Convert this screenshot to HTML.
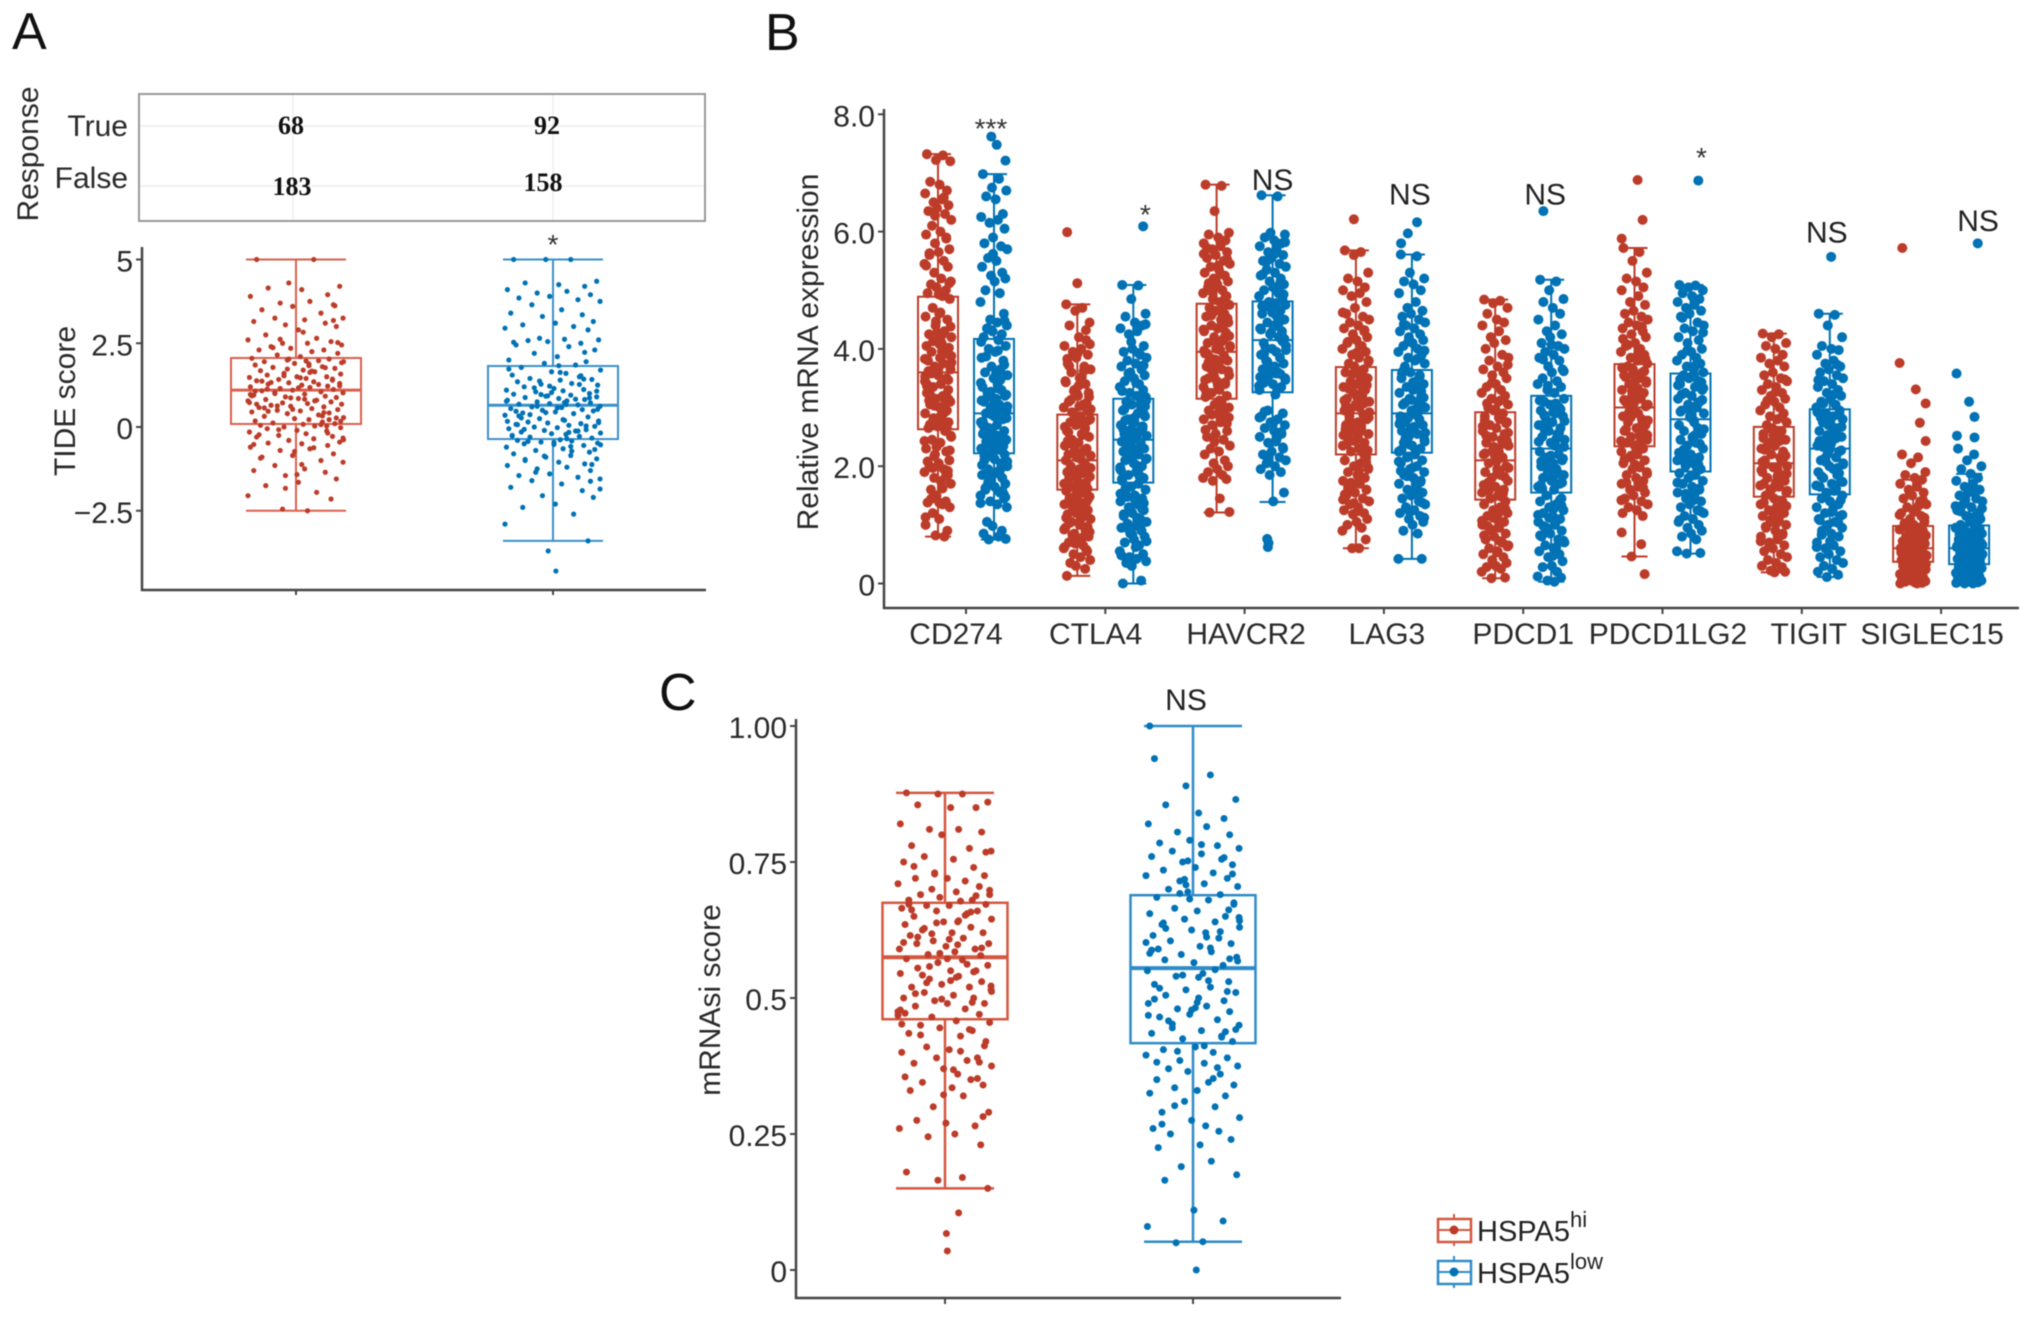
<!DOCTYPE html>
<html lang="en">
<head>
<meta charset="utf-8">
<title>HSPA5 immune panels</title>
<style>
html,body{margin:0;padding:0;background:#fff;width:2032px;height:1317px;overflow:hidden}
svg{display:block;filter:blur(.5px)}
text{font-family:"Liberation Sans",Arial,sans-serif;fill:#222}
.big{font-size:52px;fill:#111}
.lab{font-size:30px;fill:#2a2a2a}
.tick{font-size:30px;fill:#2a2a2a}
.num{font-family:"Liberation Serif",serif;font-size:26px;font-weight:bold;fill:#111;text-anchor:middle}
.ann{font-size:30px;text-anchor:middle;fill:#222}
.star{font-size:28px;text-anchor:middle;fill:#333}
</style>
</head>
<body>
<svg id="figure" xmlns="http://www.w3.org/2000/svg" width="2032" height="1317" viewBox="0 0 2032 1317">
  <rect width="2032" height="1317" fill="#fff"/>

  <text class="big" x="12" y="49">A</text>
  <text class="big" x="765" y="50">B</text>
  <text class="big" x="659" y="710">C</text>

  <g>
    <line x1="139" x2="705" y1="126" y2="126" stroke="#eee" stroke-width="1.5"/>
    <line x1="139" x2="705" y1="186" y2="186" stroke="#eee" stroke-width="1.5"/>
    <line x1="293" x2="293" y1="94" y2="221" stroke="#eee" stroke-width="1.5"/>
    <line x1="553" x2="553" y1="94" y2="221" stroke="#eee" stroke-width="1.5"/>
    <rect x="139" y="94" width="566" height="127" fill="none" stroke="#999" stroke-width="2"/>
    <text class="lab" transform="translate(38,154) rotate(-90)" text-anchor="middle">Response</text>
    <text class="lab" x="128" y="136" text-anchor="end">True</text>
    <text class="lab" x="128" y="188" text-anchor="end">False</text>
    <text class="num" x="291" y="134">68</text>
    <text class="num" x="547" y="134">92</text>
    <text class="num" x="292" y="195">183</text>
    <text class="num" x="543" y="191">158</text>
  </g>

  <g id="panelA">
    <text class="lab" transform="translate(75,401) rotate(-90)" text-anchor="middle">TIDE score</text>
    <text class="star" x="553" y="254">*</text>
  </g>

  <g id="panelB">
    <text class="lab" transform="translate(818,352) rotate(-90)" text-anchor="middle">Relative mRNA expression</text>
  </g>

  <g id="panelC">
    <text class="lab" transform="translate(720,1000) rotate(-90)" text-anchor="middle">mRNAsi score</text>
    <text class="ann" x="1186" y="710">NS</text>
  </g>

  <g>
    <g>
      <line x1="1454" x2="1454" y1="1214" y2="1246" stroke="#D4573F" stroke-width="2"/>
      <rect x="1438" y="1219" width="33" height="23" fill="#fff" stroke="#D4573F" stroke-width="2.5"/>
      <line x1="1438" x2="1471" y1="1230" y2="1230" stroke="#D4573F" stroke-width="2"/>
      <circle cx="1454" cy="1230" r="4.5" fill="#BC3C29"/>
      <text x="1477" y="1241" font-size="29" fill="#222">HSPA5<tspan font-size="22" dy="-14">hi</tspan></text>
    </g>
    <g>
      <line x1="1454" x2="1454" y1="1256" y2="1288" stroke="#2E8BC9" stroke-width="2"/>
      <rect x="1438" y="1261" width="33" height="23" fill="#fff" stroke="#2E8BC9" stroke-width="2.5"/>
      <line x1="1438" x2="1471" y1="1272" y2="1272" stroke="#2E8BC9" stroke-width="2"/>
      <circle cx="1454" cy="1272" r="4.5" fill="#0072B5"/>
      <text x="1477" y="1283" font-size="29" fill="#222">HSPA5<tspan font-size="22" dy="-14">low</tspan></text>
    </g>
  </g>
</svg>

<script>
/* ---------- Panel A data ---------- */
const tickLabelsA = ["5","2.5","0","\u22122.5"];
const tickValuesA = [5,2.5,0,-2.5];
const statsHiA = [-2.5,0.09,1.1,2.06,5];
const statsLoA = [-3.4,-0.36,0.65,1.82,5];
const pointsHiA = [5,5,4.3,4.2,4.15,4.1,3.95,3.9,3.75,3.7,3.65,3.6,3.5,3.4,3.25,3.25,3.2,3.15,3.1,3.05,3,2.9,2.75,2.65,2.6,2.55,2.5,2.5,2.45,2.4,2.35,2.3,2.3,2.25,2.2,2.15,2.1,
2.05,2.03,2,1.98,1.95,1.95,1.9,1.88,1.85,1.8,1.78,1.75,1.7,1.68,1.65,1.6,1.58,1.55,1.5,1.5,1.48,1.45,1.42,1.4,1.38,1.35,1.32,1.3,1.28,1.25,1.22,1.2,1.18,1.15,1.12,1.1,
1.08,1.05,1.02,1,.98,.95,.92,.9,.88,.85,.82,.8,.78,.75,.72,.7,.68,.65,.62,.6,.58,.55,.52,.5,.48,.45,.42,.4,.36,.32,.28,.25,.22,.18,.15,.12,.1,
.08,.05,.03,0,-.02,-.05,-.1,-.12,-.15,-.2,-.25,-.28,-.3,-.35,-.4,-.45,-.48,-.5,-.55,-.6,-.65,-.7,-.8,-.85,-.9,-1,-1.05,-1.15,-1.25,-1.3,-1.35,-1.45,-1.55,-1.65,-1.75,-1.95,-2.05,-2.15,-2.45,-2.5,
1.92,1.33,.87,.43,-.23,1.67,2.52,.63,1.47,.93,.22,1.73,1.27,.57,-.38,-.73,1.83,1.07,.33,2.37,3.62,2.83,-.93,.78,1.53,.17,1.13,-1.42,.03,.73,1.97,-.08,1.43,.68,-.62,2.03,1.23,.47,-1.12,-.18,.97,1.63,2.62,3.18,.53,1.37,.07,-.33,1.03,.83,-.52,1.77,-1.83,.27,1.17];
const pointsLoA = [5,5,5,4.35,4.3,4.25,4.2,4.1,4.05,4,3.95,3.9,3.85,3.8,3.75,3.65,3.5,3.4,3.35,3.3,3.15,3.1,3.05,3,2.95,2.9,2.65,2.62,2.6,2.58,2.55,2.5,2.45,2.4,2.3,2.2,2.1,2,1.95,1.9,1.85,
1.78,1.7,1.65,1.6,1.55,1.5,1.45,1.42,1.4,1.35,1.3,1.28,1.25,1.2,1.15,1.12,1.1,1.08,1.05,1,.98,.95,.92,.9,.88,.85,.82,.8,.78,.75,.72,.7,.68,.66,
.62,.6,.58,.55,.52,.5,.48,.45,.42,.4,.35,.3,.25,.2,.18,.15,.12,.1,.08,.05,.02,0,-.02,-.05,-.08,-.1,-.12,-.15,-.18,-.2,-.22,-.25,-.28,-.3,-.33,
-.38,-.4,-.42,-.45,-.48,-.5,-.52,-.55,-.6,-.65,-.7,-.75,-.8,-.85,-.9,-.95,-1,-1.05,-1.1,-1.15,-1.2,-1.25,-1.3,-1.4,-1.45,-1.5,-1.55,-1.6,-1.7,-1.8,-1.9,-2.05,-2.1,-2.3,-2.4,-2.6,-2.9,-3.4,
1.37,.73,.13,-.43,.93,1.53,.47,-.16,-.67,1.17,.57,1.73,.03,-.87,.83,.27,-.53,1.03,.67,-.27,1.27,.37,-1.12,1.63,.07,-.72,.97,.53,-.07,-.46,1.43,.77,.22,-1.35,.87,2.53,-.58,.43,1.07,-.97,1.83,2.23,.17,-.35,.62,-1.62,1.22,.33,-.12,-1.85];
const outlierValuesLoA = [-3.7,-4.3];
const outlierJitterLoA = [-.1,.06];

/* ---------- Panel B data ---------- */
const categoriesB = ["CD274","CTLA4","HAVCR2","LAG3","PDCD1","PDCD1LG2","TIGIT","SIGLEC15"];
const tickLabelsB = ["8.0","6.0","4.0","2.0","0"];
const tickValuesB = [8,6,4,2,0];
const annotationsB = ["***","*","NS","NS","NS","*","NS","NS"];
const annotationLevelB = [7.87,6.4,6.71,6.46,6.46,7.37,5.81,6.01];
const whiskerLowHiB = [.8,.13,1.21,.6,.09,.46,.19,0];
const q1HiB = [2.63,1.6,3.15,2.2,1.43,2.34,1.48,.37];
const medianHiB = [3.6,2.1,3.95,2.9,2.1,3,2.05,.6];
const q3HiB = [4.89,2.88,4.77,3.69,2.92,3.74,2.67,.98];
const whiskerHighHiB = [7.32,4.76,6.8,5.68,4.84,5.72,4.26,1.77];
const whiskerLowLoB = [.75,0,1.39,.42,.03,.51,.11,0];
const q1LoB = [2.22,1.72,3.26,2.23,1.55,1.91,1.52,.33];
const medianLoB = [2.9,2.45,4.15,2.9,2.3,2.8,2.3,.6];
const q3LoB = [4.17,3.15,4.81,3.64,3.2,3.58,2.97,.99];
const whiskerHighLoB = [6.98,5.09,6.62,5.61,5.18,5.09,4.6,1.87];

const cd274Hi=[7.32,7.3,7.22,7.2,6.85,6.8,6.7,6.65,6.55,6.5,6.45,6.4,6.35,6.3,6.2,6.1,6,5.95,5.9,5.8,5.7,5.65,5.6,5.5,5.45,5.4,5.3,5.2,5.15,5.1,5.05,5,4.95,4.9,4.85,4.7,4.6,4.55,4.5,4.4,4.3,4.25,4.2,4.15,4.1,4.05,4,3.95,3.9,3.85,3.8,3.75,3.7,3.65,3.6,3.55,3.5,3.45,3.4,3.35,3.3,3.25,3.2,3.15,3.1,3.05,3,2.95,2.9,2.85,2.8,2.75,2.7,2.65,2.6,2.5,2.45,2.4,2.3,2.25,2.2,2.1,2.05,2,1.95,1.9,1.85,1.8,1.75,1.7,1.6,1.5,1.4,1.38,1.35,1.3,1.2,1.1,1,.9,.82,.8,
3.12,3.77,2.68,4.23,3.41,2.93,3.58,4.02,2.77,3.29,3.91,3.03,4.38,2.71,3.66,3.18,3.83,2.86,4.13,3.47,3.37,2.98,4.47,3.72,3.22,4.08,2.66,3.53,3.96,2.82,3.14,4.28,3.62,3.08,3.88,2.73,4.62,5.42,5.88,6.27,5.12,4.93,5.63,6.58,2.43,1.92,2.17,1.73,2.52,1.44,2.33,1.83,2.08,1.62,2.27,1.97,1.38,1.13];
const cd274Lo=[6.98,6.9,6.75,6.7,6.6,6.55,6.3,6.25,6.2,6.15,6.05,5.9,5.8,5.75,5.7,5.55,5.5,5.4,5.3,5.25,5.2,5.15,5,4.95,4.8,4.6,4.5,4.45,4.4,4.35,4.3,4.25,4.2,4.15,4.05,4,3.95,3.85,3.8,3.7,3.65,3.6,3.55,3.5,3.4,3.35,3.3,3.25,3.2,3.15,3.1,3.05,3,2.95,2.9,2.85,2.8,2.75,2.7,2.65,2.6,2.55,2.52,2.5,2.45,2.42,2.4,2.35,2.3,2.28,2.25,2.2,2.15,2.1,2.05,2,1.95,1.9,1.85,1.8,1.75,1.7,1.65,1.6,1.55,1.5,1.45,1.4,1.35,1.3,1.05,.98,.9,.85,.8,.76,.75,
2.53,3.12,2.34,2.88,3.47,2.62,3.02,2.27,3.33,2.71,2.44,3.18,2.96,3.58,2.58,2.38,3.27,2.82,2.67,3.08,2.48,3.42,2.92,2.31,3.73,2.76,3.62,2.57,3.22,3.87,2.86,2.41,4.12,3.97,4.33,4.48,5.62,2.18,1.97,2.08,1.72,1.88,2.02,1.58,1.78,1.47,2.12,1.63,1.92,1.37,1.52,1.83];
const ctla4Hi=[4.76,4.7,4.65,4.45,4.4,4.2,4.15,4.05,4,3.95,3.9,3.85,3.75,3.7,3.65,3.6,3.5,3.45,3.4,3.3,3.25,3.2,3.1,3.05,3,2.95,2.9,2.85,2.8,2.75,2.7,2.65,2.6,2.55,2.5,2.45,2.4,2.35,2.3,2.28,2.25,2.2,2.18,2.15,2.12,2.1,2.05,2,1.98,1.95,1.9,1.88,1.85,1.82,1.8,1.75,1.72,1.7,1.68,1.65,1.62,1.58,1.55,1.5,1.48,1.45,1.4,1.38,1.35,1.3,1.28,1.25,1.2,1.18,1.15,1.1,1.05,1,.95,.9,.85,.8,.75,.7,.65,.6,.55,.5,.45,.4,.35,.3,.25,.13,
3.52,3.18,2.92,3.37,2.67,3.08,2.83,3.62,2.58,2.97,3.24,2.72,3.43,2.62,3.13,2.78,3.02,3.83,2.53,3.28,4.08,3.71,3.92,4.32,.92,1.07,.83,.97,1.12,.78,.68,.88,1.03,.72,.58,.62,1.22,1.33,1.43,2.17,2.43,2.27,1.97,2.38];
const ctla4Lo=[5.09,5.08,4.85,4.6,4.55,4.45,4.4,4.35,4.3,4.25,4.05,4,3.95,3.9,3.85,3.8,3.75,3.7,3.65,3.6,3.55,3.5,3.45,3.4,3.35,3.3,3.25,3.2,3.12,3.1,3.05,3,2.95,2.9,2.85,2.8,2.75,2.7,2.65,2.62,2.6,2.55,2.52,2.5,2.48,2.42,2.4,2.35,2.3,2.28,2.25,2.2,2.15,2.12,2.1,2.05,2,1.95,1.9,1.85,1.8,1.75,1.7,1.65,1.6,1.55,1.5,1.45,1.4,1.35,1.3,1.25,1.2,1.15,1.1,1.05,1.02,.98,.95,.9,.85,.8,.75,.7,.65,.55,.5,.45,.42,.38,.35,.3,.05,0,
2.58,3.02,2.22,2.83,1.93,2.68,2.38,1.82,2.97,2.13,2.73,2.47,1.78,3.07,2.32,2.88,2.03,2.63,1.87,2.43,3.18,2.78,2.18,2.93,1.98,3.42,3.58,3.72,3.28,3.93,4.12,4.42,1.62,1.43,1.27,1.53,1.12,.92,1.37,.83,1.18,.97,.72,1.48,.62,.48];
const havcr2Hi=[6.8,6.78,6.35,5.98,5.95,5.9,5.85,5.8,5.75,5.7,5.65,5.6,5.55,5.5,5.45,5.4,5.35,5.3,5.25,5.2,5.15,5.1,5.05,5,4.95,4.9,4.85,4.8,4.75,4.7,4.65,4.6,4.55,4.5,4.45,4.4,4.35,4.3,4.25,4.2,4.15,4.1,4.05,4,3.98,3.92,3.88,3.85,3.8,3.75,3.7,3.65,3.6,3.55,3.5,3.45,3.4,3.35,3.3,3.25,3.2,3.18,3.1,3.05,3,2.95,2.9,2.85,2.8,2.75,2.7,2.6,2.55,2.5,2.45,2.35,2.3,2.25,2.2,2.1,2.05,2,1.95,1.9,1.85,1.8,1.78,1.75,1.45,1.22,1.21,
3.82,4.43,3.27,4.12,3.62,4.57,3.38,3.97,4.28,3.53,4.72,3.22,4.03,3.72,4.38,3.47,4.18,3.67,4.52,3.33,3.93,4.62,3.58,4.22,3.77,4.08,3.43,4.33,3.12,2.88,2.73,2.62,2.97,2.42,2.83,5.12,5.42,4.88,5.62,5.28,4.97,5.53,5.18,5.72];
const havcr2Lo=[6.62,6.6,5.98,5.95,5.9,5.85,5.8,5.75,5.7,5.65,5.6,5.55,5.5,5.45,5.4,5.35,5.3,5.25,5.2,5.15,5.1,5.05,5,4.95,4.9,4.85,4.8,4.78,4.75,4.72,4.7,4.65,4.6,4.55,4.5,4.45,4.4,4.35,4.3,4.25,4.2,4.1,4.05,4,3.95,3.9,3.85,3.8,3.75,3.7,3.65,3.6,3.55,3.5,3.45,3.4,3.35,3.3,3.22,2.95,2.9,2.85,2.8,2.75,2.7,2.65,2.6,2.55,2.5,2.45,2.4,2.3,2.25,2.2,2.15,2.1,2.05,2,1.95,1.9,1.85,1.55,1.4,
3.92,4.42,3.37,4.13,3.68,4.58,3.47,4.02,4.28,3.57,4.73,3.32,4.17,3.78,4.38,3.52,4.23,3.63,4.53,3.42,3.98,4.62,3.58,4.33,5.12,5.48,4.93,5.62,5.27,5.02,5.53,5.82,2.93,2.72,2.58,2.83,2.42,2.12,2.32];
const lag3Hi=[5.68,5.65,5.6,5.3,5.2,5.15,5.05,5,4.95,4.9,4.8,4.7,4.6,4.55,4.5,4.45,4.4,4.35,4.3,4.25,4.2,4.15,4.1,4.05,4,3.95,3.9,3.85,3.8,3.75,3.7,3.65,3.6,3.55,3.5,3.45,3.4,3.35,3.3,3.25,3.2,3.15,3.1,3.05,3,2.95,2.88,2.85,2.8,2.75,2.7,2.65,2.6,2.55,2.5,2.45,2.4,2.35,2.3,2.25,2.15,2.1,2.05,2,1.95,1.9,1.85,1.8,1.75,1.7,1.65,1.6,1.55,1.5,1.45,1.4,1.35,1.3,1.25,1.2,1.18,1.1,1.05,1,.95,.9,.75,.6,.6,
2.83,3.32,2.43,3.07,2.63,3.52,2.27,2.97,3.18,2.53,3.42,2.73,3.27,2.38,2.92,3.62,2.58,3.12,2.22,2.78,3.38,2.48,3.03,2.68,3.57,3.78,4.12,3.93,4.32,4.62,1.92,1.72,2.07,1.52,1.82,1.37,1.97,1.63,1.23,2.12,1.43];
const lag3Lo=[5.61,5.58,5.3,5.2,5.15,5.1,5,4.95,4.8,4.7,4.65,4.6,4.55,4.5,4.45,4.4,4.35,4.3,4.25,4.2,4.15,4.1,4.05,4,3.95,3.9,3.85,3.8,3.75,3.7,3.6,3.55,3.5,3.45,3.4,3.35,3.3,3.25,3.2,3.15,3.1,3.05,3,2.95,2.88,2.85,2.8,2.75,2.7,2.65,2.6,2.55,2.5,2.45,2.4,2.35,2.3,2.25,2.2,2.15,2.1,2.05,2,1.95,1.9,1.85,1.8,1.75,1.7,1.65,1.6,1.55,1.5,1.45,1.4,1.35,1.3,1.25,1.2,1.15,1.1,1.05,1,.9,.85,.42,.42,
2.82,3.33,2.42,3.08,2.62,3.53,2.28,2.98,3.17,2.52,3.43,2.72,3.28,2.37,2.93,3.62,2.57,3.13,2.23,2.77,3.37,2.47,3.02,2.67,3.58,3.83,4.13,3.97,4.42,1.97,1.73,2.08,1.53,1.83,1.38,1.92,1.62,1.22,1.12];
const pdcd1Hi=[4.84,4.82,4.78,4.7,4.6,4.5,4.45,4.4,4.3,4.2,4.15,4.1,4,3.9,3.85,3.8,3.7,3.65,3.6,3.55,3.5,3.4,3.35,3.3,3.25,3.2,3.15,3.1,3.05,3,2.95,2.9,2.85,2.8,2.75,2.7,2.65,2.6,2.55,2.5,2.45,2.4,2.35,2.3,2.25,2.2,2.15,2.05,2,1.95,1.9,1.85,1.8,1.75,1.7,1.65,1.6,1.55,1.5,1.45,1.4,1.35,1.3,1.25,1.2,1.15,1.1,1.05,1,.95,.9,.85,.8,.75,.7,.65,.6,.55,.5,.45,.4,.35,.3,.28,.25,.2,.1,.09,
2.13,2.57,1.72,2.33,1.53,2.78,1.92,2.43,1.63,2.08,2.68,1.82,2.27,1.48,2.52,1.97,2.18,2.83,1.68,2.38,1.58,2.73,1.87,2.22,3.12,3.42,3.73,3.07,2.97,1.32,1.07,1.18,.93,1.27,.82,.72,1.12,.63,.98,.53];
const pdcd1Lo=[5.18,5.15,5,4.85,4.8,4.7,4.6,4.5,4.4,4.3,4.25,4.2,4.1,4.05,4,3.95,3.9,3.85,3.8,3.7,3.65,3.6,3.5,3.45,3.4,3.35,3.3,3.25,3.15,3.1,3.05,3,2.95,2.9,2.85,2.8,2.75,2.7,2.65,2.6,2.55,2.5,2.45,2.4,2.35,2.25,2.2,2.15,2.1,2.05,2,1.95,1.9,1.85,1.8,1.75,1.7,1.65,1.6,1.5,1.45,1.4,1.35,1.3,1.25,1.2,1.15,1.1,1.05,1,.95,.9,.85,.8,.75,.7,.65,.6,.55,.5,.45,.38,.3,.28,.2,.12,.1,.05,.03,
2.33,2.87,1.92,2.57,1.68,3.07,2.13,2.67,1.78,2.42,2.97,2.02,2.52,1.62,2.77,2.18,2.38,3.12,1.87,2.62,1.72,2.92,2.08,2.47,3.37,3.62,3.82,4.07,1.42,1.17,1.28,.93,1.33,.82,.62,1.12,.73,.98,.47];
const pdl2Hi=[5.72,5.65,5.5,5.3,5.2,5.15,5.05,5,4.9,4.8,4.75,4.65,4.6,4.55,4.5,4.45,4.4,4.35,4.3,4.25,4.2,4.1,4.05,4,3.95,3.9,3.85,3.8,3.75,3.7,3.65,3.6,3.55,3.5,3.45,3.4,3.35,3.3,3.25,3.2,3.15,3.1,3.05,2.95,2.9,2.85,2.8,2.75,2.7,2.65,2.6,2.55,2.5,2.45,2.4,2.35,2.3,2.25,2.2,2.15,2.1,2.05,2,1.95,1.9,1.85,1.8,1.75,1.7,1.65,1.6,1.55,1.5,1.45,1.4,1.35,1.3,1.25,1.2,1.15,.46,
3.02,3.47,2.63,3.22,2.43,3.62,2.83,3.33,2.53,3.07,3.57,2.73,3.13,2.38,3.42,2.93,3.18,3.68,2.58,3.28,2.48,3.52,2.78,3.08,3.92,4.17,4.38,4.07,3.83,2.27,2.12,1.98,2.18,1.87,1.72,2.03,1.63,1.42];
const pdl2Lo=[5.09,5.08,5.05,5,4.95,4.9,4.85,4.8,4.75,4.7,4.65,4.6,4.55,4.45,4.4,4.35,4.3,4.2,4.15,4.1,4,3.95,3.9,3.85,3.8,3.75,3.7,3.65,3.6,3.55,3.5,3.45,3.4,3.35,3.3,3.25,3.2,3.15,3.1,3.05,3,2.95,2.9,2.85,2.75,2.7,2.65,2.6,2.55,2.5,2.45,2.4,2.35,2.3,2.25,2.2,2.15,2.1,2.05,2,1.95,1.88,1.85,1.8,1.75,1.7,1.65,1.6,1.55,1.5,1.45,1.4,1.35,1.3,1.25,1.2,1.15,1.1,1.05,1,.95,.9,.85,.8,.75,.55,.52,.51,
2.78,3.33,2.28,3.03,2.03,3.48,2.53,3.13,2.13,2.88,3.38,2.38,2.98,1.97,3.22,2.63,2.83,3.53,2.23,3.08,2.08,3.43,2.48,2.93,3.72,3.97,4.28,4.53,1.83,1.62,1.72,1.42,1.53,1.23,1.08];
const tigitHi=[4.26,4.25,4.2,4.1,4.05,4,3.9,3.85,3.8,3.75,3.7,3.6,3.55,3.5,3.45,3.4,3.35,3.3,3.25,3.2,3.15,3.1,3.05,3,2.95,2.9,2.85,2.8,2.75,2.7,2.65,2.6,2.55,2.5,2.45,2.4,2.35,2.3,2.25,2.2,2.15,2.1,2,1.98,1.95,1.9,1.85,1.8,1.75,1.72,1.7,1.65,1.6,1.55,1.5,1.45,1.4,1.35,1.3,1.25,1.2,1.15,1.1,1.05,1,.95,.9,.85,.8,.75,.7,.65,.6,.55,.5,.45,.4,.35,.3,.28,.22,.2,.19,
2.03,2.43,1.67,2.23,1.53,2.58,1.87,2.33,1.62,2.08,2.48,1.77,2.18,1.52,2.38,1.93,2.13,2.63,1.73,2.28,1.58,2.53,1.83,2.07,2.83,3.12,3.48,3.27,1.38,1.22,1.08,1.32,.97,1.17,.83,.72,1.03,.62];
const tigitLo=[4.6,4.58,4.4,4.2,4.05,4,3.98,3.9,3.8,3.75,3.7,3.65,3.6,3.55,3.5,3.45,3.4,3.35,3.3,3.25,3.2,3.15,3.1,3.05,3,2.95,2.9,2.85,2.8,2.75,2.7,2.65,2.6,2.55,2.5,2.45,2.4,2.35,2.25,2.2,2.15,2.1,2.05,2,1.95,1.9,1.85,1.8,1.75,1.7,1.65,1.6,1.55,1.5,1.45,1.4,1.35,1.3,1.25,1.2,1.15,1.1,1.05,1,.95,.9,.85,.8,.7,.65,.6,.55,.5,.45,.4,.35,.3,.25,.2,.15,.11,
2.27,2.73,1.83,2.47,1.67,2.87,2.07,2.58,1.73,2.33,2.78,1.97,2.43,1.58,2.67,2.13,2.38,2.92,1.88,2.53,1.62,2.83,2.03,2.28,3.22,3.47,3.73,3.07,1.42,1.22,1.08,1.33,.97,1.17,.83,.72,1.03,.62];
const siglecHi=[2.2,2.15,2.05,1.9,1.85,1.8,1.77,1.7,1.65,1.6,1.55,1.5,1.45,1.4,1.35,1.3,1.25,1.2,1.15,1.1,1.05,1,.98,.95,.92,.9,.88,.85,.82,.8,.78,.75,.72,.7,.68,.65,.62,.6,.58,.55,.52,.5,.48,.45,.42,.4,.38,.36,.34,.32,.3,.28,.26,.24,.22,.2,.18,.16,.14,.12,.1,.08,.06,.05,.04,.03,.02,.01,0,0,
.93,.73,.83,.57,.67,.47,.77,.63,.53,.87,.43,1.12,1.22,1.03,1.33,1.17,1.42,1.58,1.27,.33,.23,.13,.27,.17];
const siglecLo=[2.3,2.2,2.1,2,1.95,1.87,1.8,1.75,1.7,1.65,1.6,1.55,1.5,1.45,1.4,1.35,1.3,1.25,1.2,1.15,1.1,1.05,1,.98,.95,.92,.9,.88,.85,.82,.8,.78,.75,.72,.7,.68,.65,.62,.6,.58,.55,.52,.5,.48,.45,.42,.4,.38,.36,.34,.32,.3,.28,.26,.24,.22,.2,.18,.16,.14,.12,.1,.08,.06,.05,.04,.03,.02,.01,0,0,
.94,.74,.84,.56,.66,.46,.76,.64,.54,.86,.44,1.13,1.23,1.04,1.32,1.18,1.43,1.57,1.28,.34,.24,.14,.28,.16];
const pointsHiB=[cd274Hi,ctla4Hi,havcr2Hi,lag3Hi,pdcd1Hi,pdl2Hi,tigitHi,siglecHi];
const pointsLoB=[cd274Lo,ctla4Lo,havcr2Lo,lag3Lo,pdcd1Lo,pdl2Lo,tigitLo,siglecLo];
/* outliers: category index, group (0 hi, 1 low), jitter fraction, value */
const outlierCategoryB=[0,0,0,1,1,1,2,2,2,3,3,3,3,4,5,5,5,5,5,5,5,6,7,7,7,7,7,7,7,7,7,7,7,7];
const outlierGroupB   =[1,1,1,0,0,1,1,1,1,0,1,1,1,1,0,0,0,0,0,0,1,1,0,0,0,0,0,0,1,1,1,1,1,1];
const outlierJitterB  =[-.2,.2,.85,-.75,0,.73,-.4,-.3,-.35,-.15,.38,-.3,-.8,-.58,.23,.6,-.95,.75,-.95,.5,.58,.1,-.8,-1,.2,.93,.5,.93,.64,-.93,0,.4,-.9,.4];
const outlierValueB   =[7.62,7.48,7.21,5.99,5.12,6.09,.76,.69,.62,6.21,6.16,5.97,5.8,6.35,6.88,6.2,5.88,.16,.87,.67,6.87,5.57,5.72,3.76,3.31,3.07,2.74,2.43,5.8,3.58,3.1,2.84,2.52,2.49];

/* ---------- Panel C data ---------- */
const tickLabelsC = ["1.00","0.75","0.5","0.25","0"];
const tickValuesC = [1,.75,.5,.25,0];
const statsHiC = [.15,.461,.575,.675,.877];
const statsLoC = [.052,.417,.555,.689,1];
const pointsHiC = [.877,.875,.875,.86,.855,.85,.85,.82,.81,.81,.805,.8,.78,.775,.77,.76,.755,.75,.74,.73,.725,.72,.72,.715,.71,.705,.7,.695,.69,.69,.685,.68,.68,.678,
.672,.67,.67,.665,.66,.66,.655,.65,.645,.64,.64,.635,.63,.625,.62,.62,.615,.61,.605,.6,.6,.595,.59,.59,.585,.58,.578,
.572,.57,.565,.56,.555,.55,.55,.545,.54,.535,.53,.525,.52,.52,.515,.51,.505,.5,.5,.495,.49,.49,.485,.48,.475,.47,.465,
.458,.455,.45,.445,.44,.435,.43,.42,.41,.405,.4,.39,.39,.385,.38,.375,.37,.36,.355,.35,.345,.34,.335,.33,.32,.3,.29,.275,.27,.265,.26,.25,.245,.23,.18,.17,.165,.15,
.612,.532,.688,.478,.642,.558,.592,.498,.662,.442,.522,.628,.368,.602,.548,.728,.412,.572,.508,.652,.468,.382,.618,.538,.698,.432,.582,.492,.672,.402,.768,.528,.608,.452,.352,.638,.562,.742,.512,.322,.598,.472,.658,.542,.282];
const pointsLoC = [.94,.91,.89,.865,.855,.84,.83,.82,.815,.805,.8,.79,.785,.78,.775,.77,.765,.76,.755,.75,.745,.74,.735,.73,.725,.72,.715,.71,.705,.7,.695,.69,
.685,.68,.675,.665,.66,.655,.65,.645,.64,.635,.63,.625,.62,.615,.61,.605,.6,.595,.59,.585,.58,.575,.57,.565,.56,
.55,.545,.54,.53,.525,.52,.515,.51,.505,.5,.495,.49,.485,.48,.475,.47,.465,.46,.45,.445,.44,.435,.43,.425,.42,
.41,.405,.4,.395,.39,.385,.38,.375,.37,.365,.36,.35,.345,.34,.335,.33,.325,.32,.31,.3,.29,.28,.275,.265,.26,.255,.25,.24,.23,.225,.2,.19,.175,.165,.11,.09,.08,.052,.05,
.662,.498,.592,.708,.442,.628,.538,.758,.468,.612,.402,.572,.682,.518,.372,.648,.452,.782,.588,.428,.542,.728,.482,.638,.352,.602,.512,.692,.412,.568,.458,.752,.622,.382,.532,.672,.302,.492,.582,.438,.718,.552,.268,.642,.478];
const outlierValuesHiC = [.105,.067,.035];
const outlierJitterHiC = [.29,.03,.05];
const outlierValuesLoC = [1,0];
const outlierJitterLoC = [-.92,.07];

/* horizontal jitter fractions applied in turn to the points of a group */
const jitterCycle = [-.82,.37,-.15,.91,-.58,.12,.66,-.95,.29,-.33,.78,-.07,-.71,.52,.98,-.44,.18,-.88,.61,-.22,.84,.05,-.63,.43,-1,.73,-.28,.24,.95,-.52,-.11,.58,-.77,.33,.87,-.39,.09,-.92,.69,-.18,.47,-.66,.99,-.03,.27,-.85,.55,-.48,.81,.15,-.74,.39,-.25,.93,-.6,.02,.64,-.97,.21,-.36,.76];

/* ---------- drawing ---------- */
const NS = "http://www.w3.org/2000/svg";
const RED = "#BC3C29", BLUE = "#0072B5";
const AXIS = "#444";

const yA = v => 427 - 33.5 * v;
const yB = v => 583.5 - 58.65 * v;
const yC = v => 1270 - 544 * v;
const xCatB = i => 966 + 139.3 * i;
const xGroupB = (i, g) => xCatB(i) + (g === 0 ? -28 : 28);
const jitterFrac = i => jitterCycle[i % jitterCycle.length];
const xLabelNudge = [-10,-9.6,1.5,3,0,5.5,7,-9];
const xAnnotationNudge = [-3,12,0,-2,-6,11,-3,9];

function mk(parent, tag, attrs) {
  const el = document.createElementNS(NS, tag);
  for (const k in attrs) el.setAttribute(k, attrs[k]);
  parent.appendChild(el);
  return el;
}
function axisLine(parent, x1, y1, x2, y2, width) {
  const el = mk(parent, "line", {x1, y1, x2, y2, stroke: AXIS, "stroke-width": width});
  
  
  return el;
}
function yTicks(parent, values, labels, scale, axisX, fontSize) {
  values.forEach((v, i) => {
    const y = scale(v);
    const t = axisLine(parent, axisX - 6, y, axisX, y, 2);
    
    const label = mk(parent, "text", {x: axisX - 9, y: y + 12, "text-anchor": "end", "class": "tick", "font-size": fontSize});
    label.textContent = labels[i];
    
    
  });
}
/* stats order: low whisker, q1, median, q3, high whisker */
function box(parent, cx, halfW, capHalf, stats, scale, colour, sw, medSw) {
  const g = mk(parent, "g", {});
  
  
  const [lo, q1, med, q3, hi] = stats;
  const segs = [
    [cx, scale(hi), cx, scale(q3), sw, 'whisker-upper'],
    [cx, scale(q1), cx, scale(lo), sw, 'whisker-lower'],
    [cx - capHalf, scale(hi), cx + capHalf, scale(hi), sw, 'whisker-cap-upper'],
    [cx - capHalf, scale(lo), cx + capHalf, scale(lo), sw, 'whisker-cap-lower'],
    [cx - halfW, scale(med), cx + halfW, scale(med), medSw, 'box-median']
  ];
  segs.forEach(s => {
    const l = mk(g, "line", {x1: s[0], y1: s[1], x2: s[2], y2: s[3], stroke: colour, "stroke-width": s[4]});
    
    
  });
  const r = mk(g, "rect", {x: cx - halfW, y: scale(q3), width: 2 * halfW, height: scale(q1) - scale(q3), fill: "none", stroke: colour, "stroke-width": sw});
  
  
}
function dot(parent, x, y, r, colour) {
  const c = mk(parent, "circle", {cx: x, cy: y, r, fill: colour});
  
  
}
function dots(parent, values, cx, spread, scale, r, colour) {
  values.forEach((v, i) => dot(parent, cx + jitterFrac(i) * spread, scale(v), r, colour));
}

/* Panel A */
(function () {
  const p = document.getElementById("panelA");
  axisLine(p, 142, 247, 142, 591, 2.5);
  axisLine(p, 141, 590, 706, 590, 2.5);
  yTicks(p, tickValuesA, tickLabelsA, yA, 142, 30);
  [296, 553].forEach(x => {
    const t = axisLine(p, x, 590, x, 595, 2);
    
  });
  box(p, 296, 65, 50, statsHiA, yA, "#D9604F", 2, 3);
  box(p, 553, 65, 50, statsLoA, yA, "#3A90CC", 2, 3);
  dots(p, pointsHiA, 296, 48, yA, 2.6, RED);
  dots(p, pointsLoA, 553, 48, yA, 2.6, BLUE);
  outlierValuesLoA.forEach((v, i) => dot(p, 553 + outlierJitterLoA[i] * 48, yA(v), 2.6, BLUE));
})();

/* Panel B */
(function () {
  const p = document.getElementById("panelB");
  axisLine(p, 884, 109, 884, 609, 2.5);
  axisLine(p, 883, 608, 2019, 608, 2.5);
  yTicks(p, tickValuesB, tickLabelsB, yB, 884, 30);
  categoriesB.forEach((name, i) => {
    const t = axisLine(p, xCatB(i), 608, xCatB(i), 614, 2);
    
    const label = mk(p, "text", {x: xCatB(i) + xLabelNudge[i], y: 644, "text-anchor": "middle", "class": "tick"});
    label.textContent = name;
    
    
  });
  categoriesB.forEach((name, i) => {
    box(p, xGroupB(i, 0), 20, 13, [whiskerLowHiB[i], q1HiB[i], medianHiB[i], q3HiB[i], whiskerHighHiB[i]], yB, RED, 2, 2);
    box(p, xGroupB(i, 1), 20, 13, [whiskerLowLoB[i], q1LoB[i], medianLoB[i], q3LoB[i], whiskerHighLoB[i]], yB, BLUE, 2, 2);
    dots(p, pointsHiB[i], xGroupB(i, 0), 13.5, yB, 5, RED);
    dots(p, pointsLoB[i], xGroupB(i, 1), 13.5, yB, 5, BLUE);
  });
  outlierValueB.forEach((v, i) => {
    const g = outlierGroupB[i];
    dot(p, xGroupB(outlierCategoryB[i], g) + outlierJitterB[i] * 13.5, yB(v), 5, g === 0 ? RED : BLUE);
  });
  annotationsB.forEach((txt, i) => {
    const isStar = txt.indexOf("*") === 0;
    const a = mk(p, "text", {x: xGroupB(i, 1) + xAnnotationNudge[i], y: yB(annotationLevelB[i]) + (isStar ? 16 : 0), "class": isStar ? "star" : "ann"});
    a.textContent = txt;
    
    
  });
})();

/* Panel C */
(function () {
  const p = document.getElementById("panelC");
  axisLine(p, 796, 719, 796, 1299, 2.5);
  axisLine(p, 795, 1298, 1341, 1298, 2.5);
  yTicks(p, tickValuesC, tickLabelsC, yC, 796, 29);
  [945, 1193].forEach(x => {
    const t = axisLine(p, x, 1298, x, 1304, 2);
    
  });
  box(p, 945, 62.5, 49, statsHiC, yC, "#D4573F", 2.5, 4);
  box(p, 1193, 62.5, 49, statsLoC, yC, "#2E8BC9", 2.5, 4);
  dots(p, pointsHiC, 945, 47, yC, 3.5, RED);
  dots(p, pointsLoC, 1193, 47, yC, 3.5, BLUE);
  outlierValuesHiC.forEach((v, i) => dot(p, 945 + outlierJitterHiC[i] * 47, yC(v), 3.5, RED));
  outlierValuesLoC.forEach((v, i) => dot(p, 1193 + outlierJitterLoC[i] * 47, yC(v), 3.5, BLUE));
})();
</script>
</body>
</html>
